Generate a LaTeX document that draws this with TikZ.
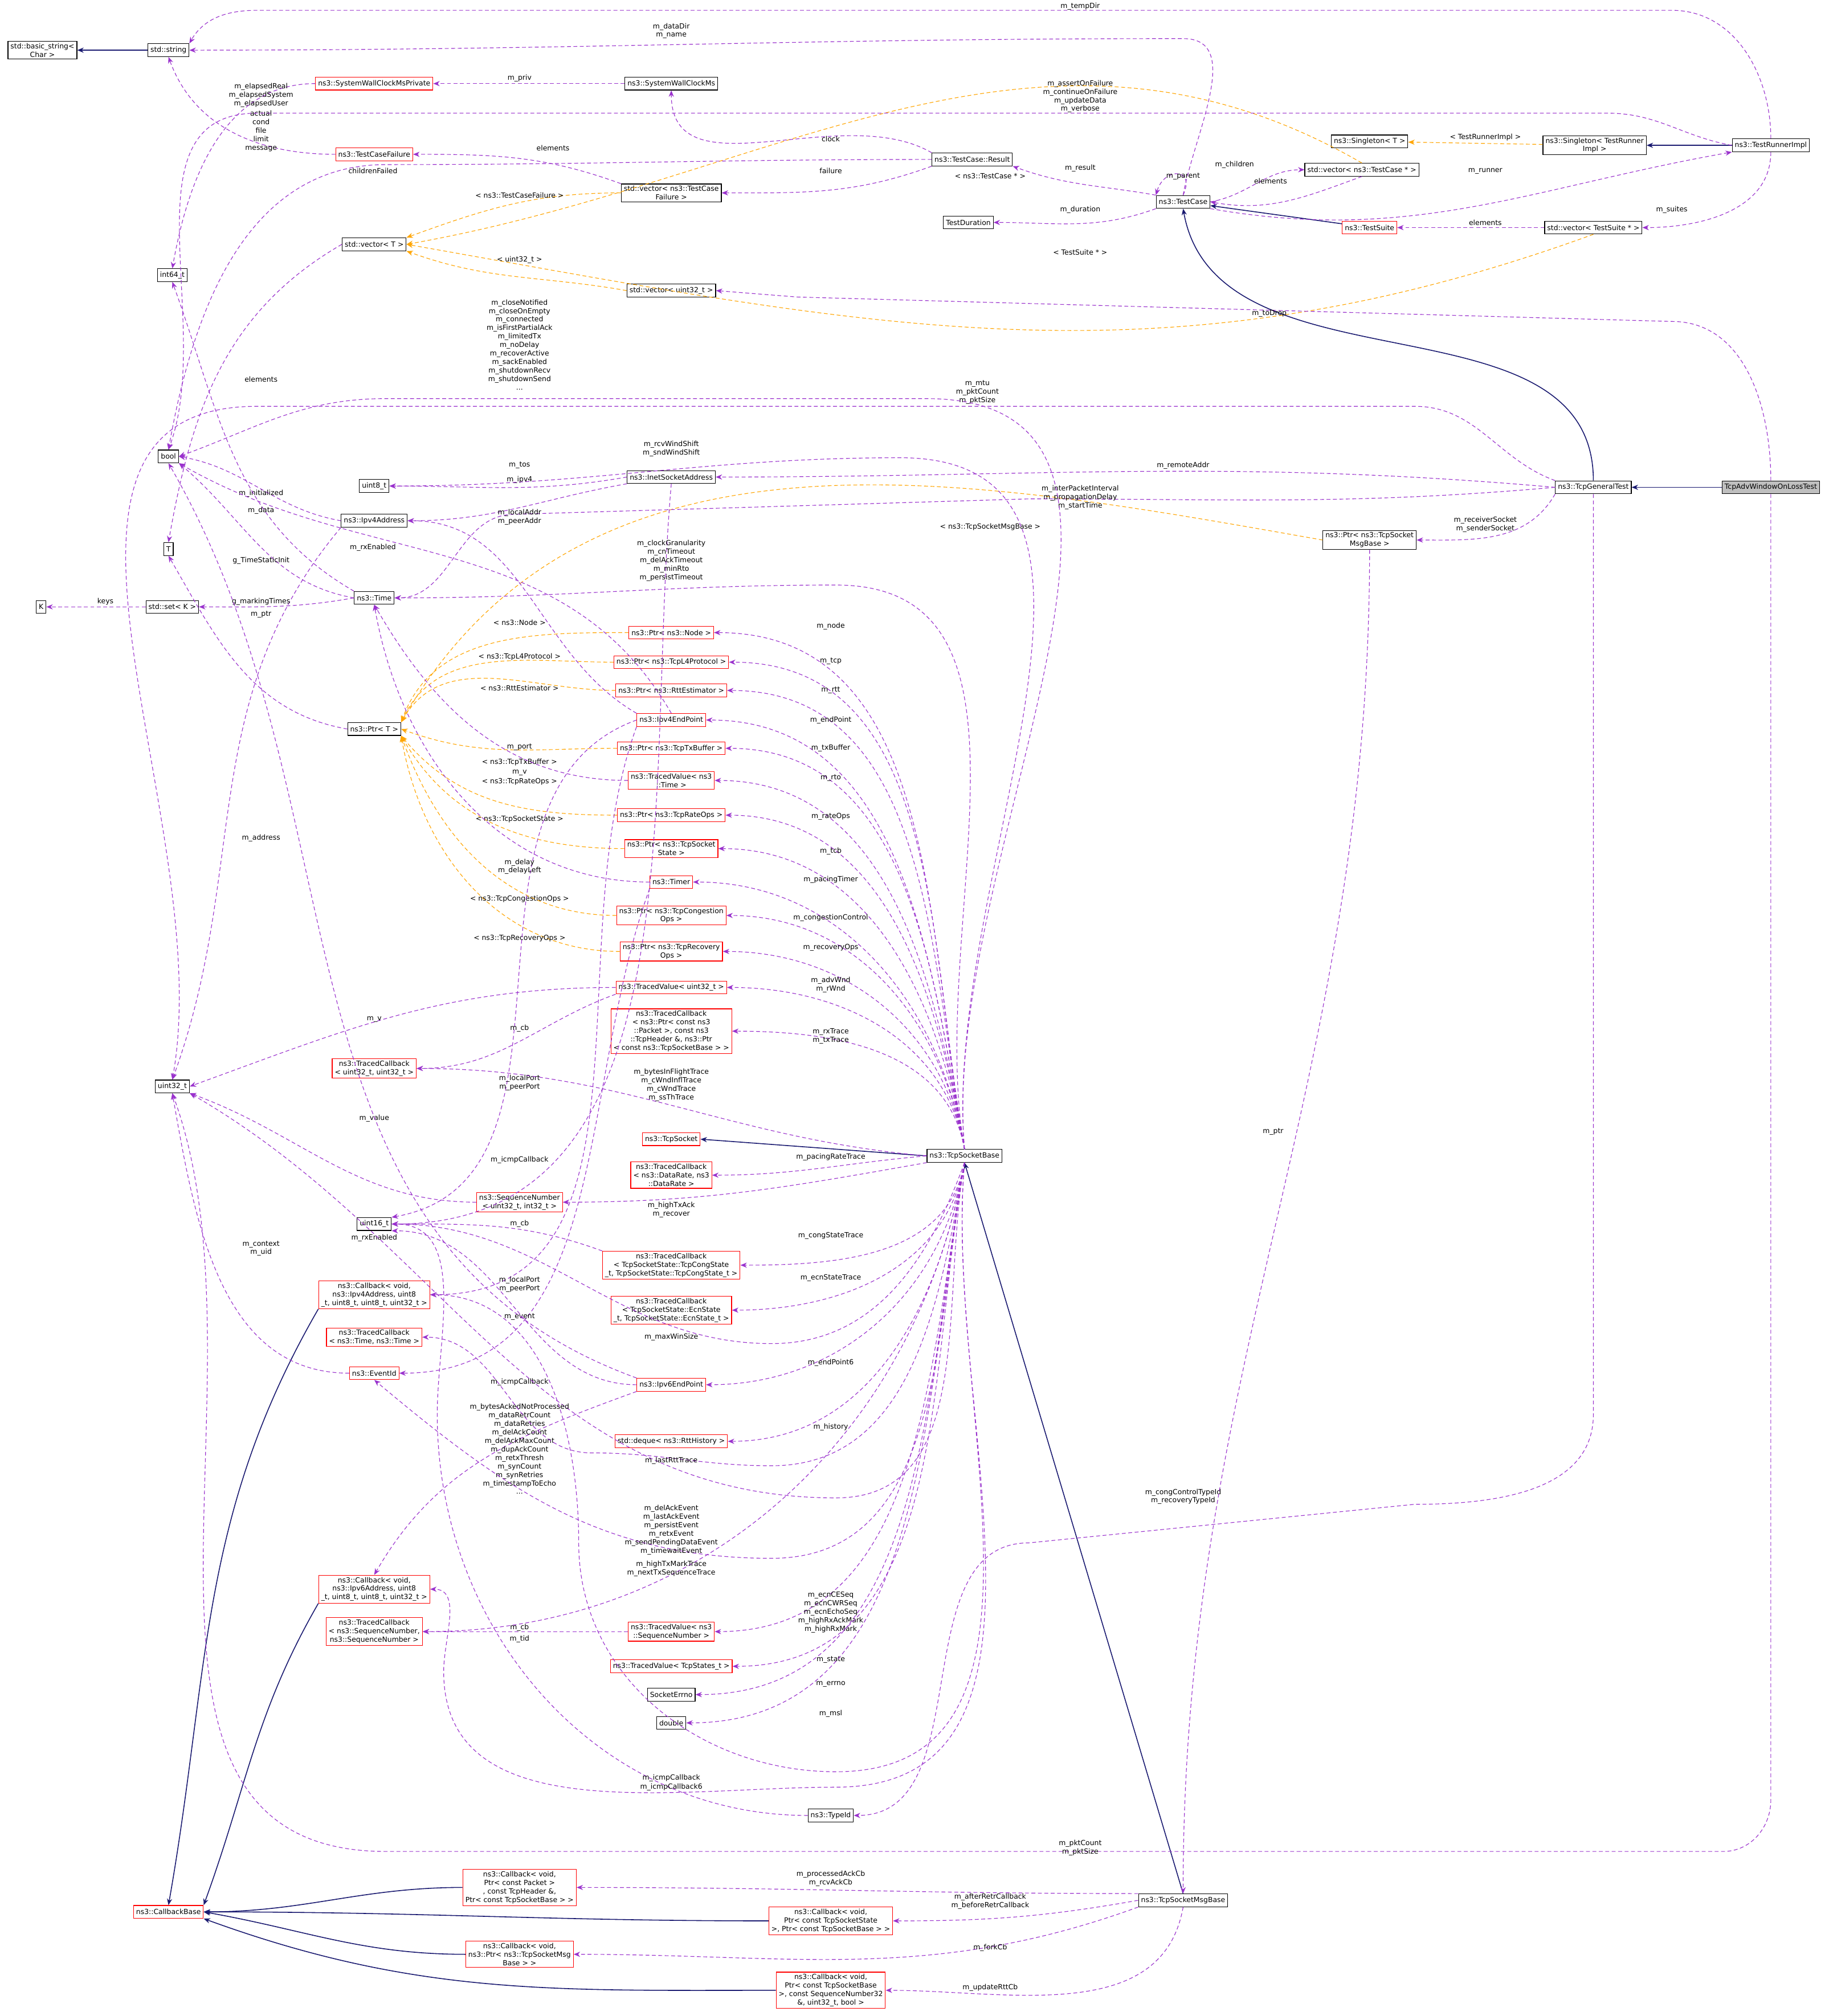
\documentclass[tikz,border=0pt]{standalone}
\usepackage{fontspec}
\setmainfont{DejaVu Sans}
\usetikzlibrary{arrows.meta}
\definecolor{navyc}{HTML}{191970}
\definecolor{usec}{HTML}{9A32CD}
\definecolor{tplc}{HTML}{FFA500}
\tikzset{
 box/.style={draw=black,fill=white,font=\fontsize{1.375}{1.65}\selectfont,inner xsep=0.5pt,inner ysep=0.375pt,align=center,minimum height=2.5pt,line width=0.125pt},
 rbox/.style={box,draw=red},
 inh/.style={draw=navyc,line width=0.175pt,-{Stealth[length=1.25pt,width=1pt]}},
 use/.style={draw=usec,dash pattern=on 0.75pt off 0.5pt,line width=0.125pt,-{Stealth[length=1.25pt,width=1pt]}},
 tpl/.style={draw=tplc,dash pattern=on 0.75pt off 0.5pt,line width=0.125pt,-{Stealth[length=1.25pt,width=1pt]}},
 lbl/.style={font=\fontsize{1.375}{1.65}\selectfont,align=center,inner sep=0pt}
}
\begin{document}
\begin{tikzpicture}[x=0.25pt,y=-0.25pt]
\useasboundingbox[fill=white] (0,0) rectangle (1422,1568);
% nodes
\node[box] (bs) at (33,39) {std::basic\_string<\\Char >};
\node[box] (str) at (131,39) {std::string};
\node[rbox] (swp) at (291,65) {ns3::SystemWallClockMsPrivate};
\node[box] (swc) at (522,65) {ns3::SystemWallClockMs};
\node[rbox] (tcf) at (291,120) {ns3::TestCaseFailure};
\node[box] (i64) at (134,214) {int64\_t};
\node[box] (vtcf) at (522,150) {std::vector< ns3::TestCase\\Failure >};
\node[box] (res) at (756,124) {ns3::TestCase::Result};
\node[box] (vT) at (291,190) {std::vector< T >};
\node[box] (vu32) at (522,226) {std::vector< uint32\_t >};
\node[box] (tdur) at (753,173) {TestDuration};
\node[box] (tc) at (920,157) {ns3::TestCase};
\node[box] (vtc) at (1059,132) {std::vector< ns3::TestCase * >};
\node[box] (sgT) at (1065,110) {ns3::Singleton< T >};
\node[box] (sgR) at (1240,113) {ns3::Singleton< TestRunner\\Impl >};
\node[box] (tri) at (1377,113) {ns3::TestRunnerImpl};
\node[rbox] (ts) at (1065,177) {ns3::TestSuite};
\node[box] (vts) at (1239,177) {std::vector< TestSuite * >};
\node[box] (bool) at (131,355) {bool};
\node[box] (u8) at (291,378) {uint8\_t};
\node[box] (isa) at (522,371) {ns3::InetSocketAddress};
\node[box] (ip4) at (291,405) {ns3::Ipv4Address};
\node[box] (T) at (131,427) {T};
\node[box] (tgt) at (1239,379) {ns3::TcpGeneralTest};
\node[box,fill=black!25] (adv) at (1377,379) {TcpAdvWindowOnLossTest};
\node[box] (pmsg) at (1065,420) {ns3::Ptr< ns3::TcpSocket\\MsgBase >};
\node[box] (K) at (32,472) {K};
\node[box] (setK) at (134,472) {std::set< K >};
\node[box] (time) at (291,465) {ns3::Time};
\node[rbox] (pnode) at (522,492) {ns3::Ptr< ns3::Node >};
\node[rbox] (pl4) at (522,515) {ns3::Ptr< ns3::TcpL4Protocol >};
\node[rbox] (prtt) at (522,537) {ns3::Ptr< ns3::RttEstimator >};
\node[box] (pT) at (291,567) {ns3::Ptr< T >};
\node[rbox] (ep4) at (522,560) {ns3::Ipv4EndPoint};
\node[rbox] (ptx) at (522,582) {ns3::Ptr< ns3::TcpTxBuffer >};
\node[rbox] (tvt) at (522,607) {ns3::TracedValue< ns3\\::Time >};
\node[rbox] (prate) at (522,634) {ns3::Ptr< ns3::TcpRateOps >};
\node[rbox] (ptcb) at (522,660) {ns3::Ptr< ns3::TcpSocket\\State >};
\node[rbox] (timer) at (522,686) {ns3::Timer};
\node[rbox] (pcc) at (522,712) {ns3::Ptr< ns3::TcpCongestion\\Ops >};
\node[rbox] (prec) at (522,740) {ns3::Ptr< ns3::TcpRecovery\\Ops >};
\node[rbox] (tvu) at (522,768) {ns3::TracedValue< uint32\_t >};
\node[rbox] (tcpk) at (522,802) {ns3::TracedCallback\\< ns3::Ptr< const ns3\\::Packet >, const ns3\\::TcpHeader \&, ns3::Ptr\\< const ns3::TcpSocketBase > >};
\node[box] (u32) at (134,845) {uint32\_t};
\node[rbox] (tcuu) at (291,831) {ns3::TracedCallback\\< uint32\_t, uint32\_t >};
\node[rbox] (tsock) at (522,886) {ns3::TcpSocket};
\node[box] (tsb) at (750,899) {ns3::TcpSocketBase};
\node[rbox] (tcdr) at (522,914) {ns3::TracedCallback\\< ns3::DataRate, ns3\\::DataRate >};
\node[rbox] (seq) at (404,935) {ns3::SequenceNumber\\< uint32\_t, int32\_t >};
\node[box] (u16) at (291,952) {uint16\_t};
\node[rbox] (tccs) at (522,984) {ns3::TracedCallback\\< TcpSocketState::TcpCongState\\\_t, TcpSocketState::TcpCongState\_t >};
\node[rbox] (cb4) at (291,1007) {ns3::Callback< void,\\ns3::Ipv4Address, uint8\\\_t, uint8\_t, uint8\_t, uint32\_t >};
\node[rbox] (tcecn) at (522,1019) {ns3::TracedCallback\\< TcpSocketState::EcnState\\\_t, TcpSocketState::EcnState\_t >};
\node[rbox] (tctt) at (291,1040) {ns3::TracedCallback\\< ns3::Time, ns3::Time >};
\node[rbox] (evid) at (291,1068) {ns3::EventId};
\node[rbox] (ep6) at (522,1077) {ns3::Ipv6EndPoint};
\node[rbox] (dq) at (522,1121) {std::deque< ns3::RttHistory >};
\node[rbox] (cb6) at (291,1236) {ns3::Callback< void,\\ns3::Ipv6Address, uint8\\\_t, uint8\_t, uint8\_t, uint32\_t >};
\node[rbox] (tcsq) at (291,1269) {ns3::TracedCallback\\< ns3::SequenceNumber,\\ns3::SequenceNumber >};
\node[rbox] (tvsq) at (522,1269) {ns3::TracedValue< ns3\\::SequenceNumber >};
\node[rbox] (tvst) at (522,1296) {ns3::TracedValue< TcpStates\_t >};
\node[box] (serr) at (522,1318) {SocketErrno};
\node[box] (dbl) at (522,1340) {double};
\node[box] (tid) at (646,1412) {ns3::TypeId};
\node[rbox] (cbb) at (131,1487) {ns3::CallbackBase};
\node[rbox] (cbpk) at (404,1468) {ns3::Callback< void,\\Ptr< const Packet >\\, const TcpHeader \&,\\Ptr< const TcpSocketBase > >};
\node[box] (msg) at (920,1478) {ns3::TcpSocketMsgBase};
\node[rbox] (cbst) at (646,1494) {ns3::Callback< void,\\Ptr< const TcpSocketState\\>, Ptr< const TcpSocketBase > >};
\node[rbox] (cbmsg) at (404,1520) {ns3::Callback< void,\\ns3::Ptr< ns3::TcpSocketMsg\\Base > >};
\node[rbox] (cbsq) at (646,1548) {ns3::Callback< void,\\Ptr< const TcpSocketBase\\>, const SequenceNumber32\\\&, uint32\_t, bool >};

% inheritance
\draw[inh] (str) -- (bs);
\draw[inh] (tri) -- (sgR);
\draw[inh] (ts) -- (tc);
\draw[inh] (adv) -- (tgt);
\draw[inh] (tgt.north) to[out=90,in=-80] (tc.south);
\draw[inh] (tsb.west) -- (tsock.east);
\draw[inh] (msg.north) -- (tsb.south);
\draw[inh] (cbpk.west) to[out=180,in=0] (cbb.east);
\draw[inh] (cbst.west) to[out=180,in=0] (cbb.east);
\draw[inh] (cbmsg.west) to[out=180,in=-10] (cbb.east);
\draw[inh] (cbsq.west) to[out=180,in=-20] (cbb.south east);
\draw[inh] (cb4.south west) to[out=240,in=80] (cbb.north);
\draw[inh] (cb6.south west) to[out=240,in=70] (cbb.north east);

% templates
\draw[tpl] (vtcf) to[out=180,in=20] (vT.north east);
\draw[tpl] (vu32.west) to[out=170,in=-20] (vT.south east);
\draw[tpl] (vtc.north) to[out=150,in=10] (vT.east);
\draw[tpl] (vts.south) to[out=200,in=-10] (vT.east);
\draw[tpl] (sgR) -- (sgT);
\draw[tpl] (pmsg.west) to[out=170,in=60] (pT.north east);
\draw[tpl] (pnode.west) to[out=180,in=70] (pT.north east);
\draw[tpl] (pl4.west) to[out=180,in=65] (pT.north east);
\draw[tpl] (prtt.west) to[out=180,in=60] (pT.north east);
\draw[tpl] (ptx.west) to[out=180,in=-20] (pT.east);
\draw[tpl] (prate.west) to[out=180,in=-50] (pT.south east);
\draw[tpl] (ptcb.west) to[out=180,in=-60] (pT.south east);
\draw[tpl] (pcc.west) to[out=180,in=-70] (pT.south east);
\draw[tpl] (prec.west) to[out=180,in=-80] (pT.south east);
\node[lbl] at (404,152) {< ns3::TestCaseFailure >};
\node[lbl] at (404,202) {< uint32\_t >};
\node[lbl] at (770,137) {< ns3::TestCase * >};
\node[lbl] at (840,196) {< TestSuite * >};
\node[lbl] at (1155,107) {< TestRunnerImpl >};
\node[lbl] at (770,410) {< ns3::TcpSocketMsgBase >};
\node[lbl] at (404,484) {< ns3::Node >};
\node[lbl] at (404,511) {< ns3::TcpL4Protocol >};
\node[lbl] at (404,535) {< ns3::RttEstimator >};
\node[lbl] at (404,593) {< ns3::TcpTxBuffer >};
\node[lbl] at (404,608) {< ns3::TcpRateOps >};
\node[lbl] at (404,637) {< ns3::TcpSocketState >};
\node[lbl] at (404,699) {< ns3::TcpCongestionOps >};
\node[lbl] at (404,730) {< ns3::TcpRecoveryOps >};

% usage top
\draw[use] (swp.west) to[out=180,in=80] (i64.north);
\node[lbl] at (203,74) {m\_elapsedReal\\m\_elapsedSystem\\m\_elapsedUser};
\draw[use] (swc) -- (swp); \node[lbl] at (404,61) {m\_priv};
\draw[use] (tcf.west) to[out=180,in=-70] (str.south);
\node[lbl] at (203,102) {actual\\cond\\file\\limit\\message};
\draw[use] (res.north west) to[out=150,in=-90] (swc.south); \node[lbl] at (646,108) {clock};
\draw[use] (res.south west) to[out=200,in=0] (vtcf.east); \node[lbl] at (646,133) {failure};
\draw[use] (res.west) to[out=180,in=0] (300,128) to[out=180,in=80] (bool.north); \node[lbl] at (290,133) {childrenFailed};
\draw[use] (vtcf.north west) to[out=160,in=0] (tcf.east); \node[lbl] at (430,115) {elements};
\draw[use] (vT.west) to[out=210,in=80] (T.north); \node[lbl] at (203,295) {elements};
\draw[use] (tc.north west) to[out=170,in=-20] (res.south east); \node[lbl] at (840,131) {m\_result};
\draw[use] (tc.south west) to[out=200,in=0] (tdur.east); \node[lbl] at (840,163) {m\_duration};
\draw[use] (tc.north) .. controls (930,130) and (905,130) .. (tc.north west); \node[lbl] at (920,137) {m\_parent};
\draw[use] (tc.north) to[out=80,in=0] (920,30) to[out=180,in=0] (str.east); \node[lbl] at (522,24) {m\_dataDir\\m\_name};
\draw[use] (tri.north) to[out=90,in=0] (1300,8) -- (200,8) to[out=180,in=60] (str.north east); \node[lbl] at (840,5) {m\_tempDir};
\draw[use] (tri.west) to[out=170,in=0] (1250,88) -- (200,88) to[out=180,in=70] (bool.north); \node[lbl] at (840,75) {m\_assertOnFailure\\m\_continueOnFailure\\m\_updateData\\m\_verbose};
\draw[use] (tc.east) to[out=10,in=180] (vtc.west); \node[lbl] at (960,128) {m\_children};
\draw[use] (vtc.south) to[out=200,in=-10] (tc.east); \node[lbl] at (988,141) {elements};
\draw[use] (tc.south east) to[out=-10,in=190] (tri.south west); \node[lbl] at (1155,133) {m\_runner};
\draw[use] (tri.south) to[out=-90,in=0] (vts.east); \node[lbl] at (1300,163) {m\_suites};
\draw[use] (vts) -- (ts); \node[lbl] at (1155,173) {elements};
\draw[use] (adv.north) to[out=90,in=0] (1300,250) -- (620,231) -- (vu32.east); \node[lbl] at (987,244) {m\_toDrop};
\draw[use] (adv.south) -- (1377,1400) to[out=-90,in=0] (1340,1440) -- (300,1440) to[out=180,in=-70] (u32.south); \node[lbl] at (840,1437) {m\_pktCount\\m\_pktSize};
\draw[use] (tgt.north west) to[out=160,in=0] (1100,316) -- (200,316) to[out=180,in=80] (u32.north); \node[lbl] at (760,305) {m\_mtu\\m\_pktCount\\m\_pktSize};
\draw[use] (tgt.west) to[out=175,in=0] (isa.east); \node[lbl] at (920,362) {m\_remoteAddr};
\draw[use] (tgt.west) to[out=185,in=0] (800,388) -- (400,400) to[out=180,in=0] (time.east); \node[lbl] at (840,387) {m\_interPacketInterval\\m\_propagationDelay\\m\_startTime};
\draw[use] (tgt.south west) to[out=240,in=0] (pmsg.east); \node[lbl] at (1155,408) {m\_receiverSocket\\m\_senderSocket};
\draw[use] (tgt.south) -- (1239,1100) to[out=-90,in=0] (1100,1170) -- (800,1200) to[out=180,in=0] (tid.east); \node[lbl] at (920,1164) {m\_congControlTypeId\\m\_recoveryTypeId};
\draw[use] (pmsg.south) to[out=-90,in=90] (msg.north); \node[lbl] at (990,880) {m\_ptr};
\draw[use] (msg.north west) to[out=180,in=0] (cbpk.east); \node[lbl] at (646,1461) {m\_processedAckCb\\m\_rcvAckCb};
\draw[use] (msg.west) to[out=190,in=0] (cbst.east); \node[lbl] at (770,1479) {m\_afterRetrCallback\\m\_beforeRetrCallback};
\draw[use] (msg.south west) to[out=200,in=0] (cbmsg.east); \node[lbl] at (770,1515) {m\_forkCb};
\draw[use] (msg.south) to[out=-100,in=0] (cbsq.east); \node[lbl] at (770,1546) {m\_updateRttCb};

% usage middle-left
\draw[use] (isa.west) to[out=190,in=0] (u8.east); \node[lbl] at (404,362) {m\_tos};
\draw[use] (isa.south west) to[out=190,in=0] (ip4.east); \node[lbl] at (404,373) {m\_ipv4};
\draw[use] (isa.south) to[out=-95,in=0] (u16.east); \node[lbl] at (404,581) {m\_port};
\draw[use] (ip4.west) to[out=170,in=-10] (bool.east); \node[lbl] at (203,384) {m\_initialized};
\draw[use] (ip4.south west) to[out=230,in=70] (u32.north); \node[lbl] at (203,652) {m\_address};
\draw[use] (time.north west) to[out=150,in=-70] (i64.south); \node[lbl] at (203,397) {m\_data};
\draw[use] (time.west) to[out=170,in=-40] (bool.south east); \node[lbl] at (203,436) {g\_TimeStaticInit};
\draw[use] (time.west) to[out=190,in=0] (setK.east); \node[lbl] at (203,468) {g\_markingTimes};
\draw[use] (setK) -- (K); \node[lbl] at (82,468) {keys};
\draw[use] (pT.west) to[out=170,in=-60] (T.south); \node[lbl] at (203,478) {m\_ptr};
\draw[use] (ep4.north west) to[out=150,in=0] (ip4.east); \node[lbl] at (404,402) {m\_localAddr\\m\_peerAddr};
\draw[use] (ep4.north) to[out=120,in=-30] (bool.south east); \node[lbl] at (290,426) {m\_rxEnabled};
\draw[use] (ep4.west) to[out=200,in=10] (u16.north east); \node[lbl] at (404,842) {m\_localPort\\m\_peerPort};
\draw[use] (ep4.south west) to[out=250,in=0] (cb4.east); \node[lbl] at (404,902) {m\_icmpCallback};
\draw[use] (tvt.west) to[out=180,in=-60] (time.south); \node[lbl] at (404,601) {m\_v};
\draw[use] (timer.west) to[out=180,in=-80] (time.south); \node[lbl] at (404,674) {m\_delay\\m\_delayLeft};
\draw[use] (timer.south west) to[out=250,in=0] (evid.east); \node[lbl] at (404,1024) {m\_event};
\draw[use] (tvu.west) to[out=180,in=20] (u32.east); \node[lbl] at (291,793) {m\_v};
\draw[use] (tvu.south west) to[out=200,in=0] (tcuu.east); \node[lbl] at (404,800) {m\_cb};
\draw[use] (seq.west) to[out=180,in=-20] (u32.south east); \node[lbl] at (291,870) {m\_value};
\draw[use] (evid.west) to[out=180,in=-80] (u32.south); \node[lbl] at (203,971) {m\_context\\m\_uid};
\draw[use] (ep6.west) to[out=180,in=0] (u16.south east); \node[lbl] at (404,999) {m\_localPort\\m\_peerPort};
\draw[use] (ep6.north west) to[out=160,in=-60] (bool.south); \node[lbl] at (291,963) {m\_rxEnabled};
\draw[use] (ep6.south west) to[out=200,in=60] (cb6.north); \node[lbl] at (404,1075) {m\_icmpCallback};
\draw[use] (tvsq.west) to[out=180,in=0] (tcsq.east); \node[lbl] at (404,1266) {m\_cb};
\draw[use] (tid.west) to[out=180,in=-90] (340,1100) to[out=90,in=0] (u16.east); \node[lbl] at (404,1275) {m\_tid};
\draw[use] (tccs.north west) to[out=160,in=0] (u16.east); \node[lbl] at (404,952) {m\_cb};

% usage from TcpSocketBase
\draw[use] (tsb.north) to[out=95,in=0] (720,310) -- (300,310) to[out=180,in=20] (bool.east);
\node[lbl] at (404,268) {m\_closeNotified\\m\_closeOnEmpty\\m\_connected\\m\_isFirstPartialAck\\m\_limitedTx\\m\_noDelay\\m\_recoverActive\\m\_sackEnabled\\m\_shutdownRecv\\m\_shutdownSend\\...};
\draw[use] (tsb.north) to[out=95,in=0] (700,356) to[out=180,in=0] (u8.east); \node[lbl] at (522,349) {m\_rcvWindShift\\m\_sndWindShift};
\draw[use] (tsb.north) to[out=100,in=0] (650,455) to[out=180,in=0] (time.east); \node[lbl] at (522,436) {m\_clockGranularity\\m\_cnTimeout\\m\_delAckTimeout\\m\_minRto\\m\_persistTimeout};
\foreach \t/\tx/\ly in {pnode/m\_node/487, pl4/m\_tcp/514, prtt/m\_rtt/537, ep4/m\_endPoint/560, ptx/m\_txBuffer/582, tvt/m\_rto/605, prate/m\_rateOps/635, ptcb/m\_tcb/662, timer/m\_pacingTimer/684, pcc/m\_congestionControl/714, prec/m\_recoveryOps/737, tvu/{m\_advWnd\\m\_rWnd}/766, tcpk/{m\_rxTrace\\m\_txTrace}/806}{
  \draw[use] (tsb.north) to[out=100,in=0] (\t.east);
  \node[lbl] at (646,\ly) {\tx};
}
\draw[use] (tsb.west) to[out=175,in=0] (tcuu.east); \node[lbl] at (522,844) {m\_bytesInFlightTrace\\m\_cWndInflTrace\\m\_cWndTrace\\m\_ssThTrace};
\draw[use] (tsb.west) to[out=185,in=0] (tcdr.east); \node[lbl] at (646,900) {m\_pacingRateTrace};
\draw[use] (tsb.south west) to[out=190,in=0] (seq.east); \node[lbl] at (522,941) {m\_highTxAck\\m\_recover};
\foreach \t/\tx/\ly in {tccs/m\_congStateTrace/961, tcecn/m\_ecnStateTrace/994, ep6/m\_endPoint6/1060, dq/m\_history/1110, tvsq/{m\_ecnCESeq\\m\_ecnCWRSeq\\m\_ecnEchoSeq\\m\_highRxAckMark\\m\_highRxMark}/1254, tvst/m\_state/1291, serr/m\_errno/1310, dbl/m\_msl/1333}{
  \draw[use] (tsb.south) to[out=-100,in=0] (\t.east);
  \node[lbl] at (646,\ly) {\tx};
}
\draw[use] (tsb.south) to[out=-110,in=0] (600,1045) to[out=180,in=0] (u16.east); \node[lbl] at (522,1040) {m\_maxWinSize};
\draw[use] (tsb.south) to[out=-100,in=0] (650,1165) to[out=180,in=-30] (u32.south east);
\node[lbl] at (404,1127) {m\_bytesAckedNotProcessed\\m\_dataRetrCount\\m\_dataRetries\\m\_delAckCount\\m\_delAckMaxCount\\m\_dupAckCount\\m\_retxThresh\\m\_synCount\\m\_synRetries\\m\_timestampToEcho\\...};
\draw[use] (tsb.south) to[out=-100,in=0] (600,1140) to[out=180,in=0] (460,1130) to[out=180,in=0] (tctt.east); \node[lbl] at (522,1136) {m\_lastRttTrace};
\draw[use] (tsb.south) to[out=-100,in=0] (600,1212) to[out=180,in=-40] (evid.south); \node[lbl] at (522,1190) {m\_delAckEvent\\m\_lastAckEvent\\m\_persistEvent\\m\_retxEvent\\m\_sendPendingDataEvent\\m\_timewaitEvent};
\draw[use] (tsb.south) to[out=-100,in=0] (tcsq.east); \node[lbl] at (522,1220) {m\_highTxMarkTrace\\m\_nextTxSequenceTrace};
\draw[use] (tsb.south) to[out=-95,in=0] (650,1378) to[out=180,in=-90] (450,1200) to[out=90,in=0] (cb4.east); \node[lbl] at (522,1383) {m\_icmpCallback};
\draw[use] (tsb.south) to[out=-95,in=0] (650,1390) to[out=180,in=-90] (345,1300) to[out=90,in=0] (cb6.east); \node[lbl] at (522,1390) {m\_icmpCallback6};
\end{tikzpicture}
\end{document}
